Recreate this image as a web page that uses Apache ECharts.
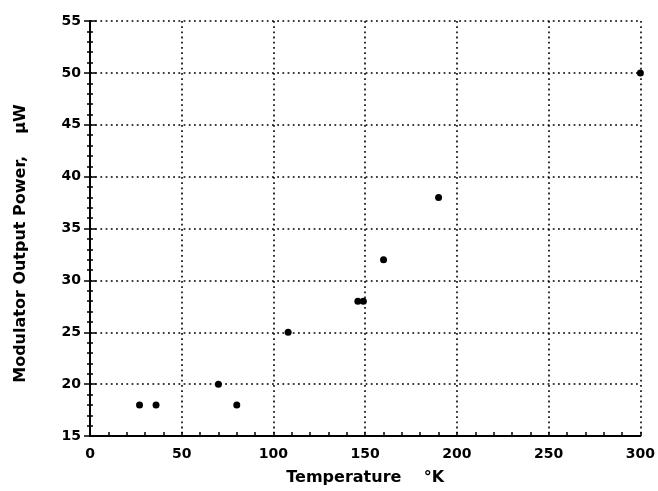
<!DOCTYPE html>
<html>
<head>
<meta charset="utf-8">
<script src="https://cdn.jsdelivr.net/npm/echarts@6/dist/echarts.min.js"></script>
<style>html,body{margin:0;padding:0;background:#fff}#c{width:658px;height:491px}</style>
</head>
<body>
<div id="c"></div>
<script>
var temperatures = [27, 36, 70, 80, 108, 146, 149, 160, 190, 300];
var powers = [18, 18, 20, 18, 25, 28, 28, 32, 38, 50];
var xTicks = [0, 50, 100, 150, 200, 250, 300];
var yTicks = [15, 20, 25, 30, 35, 40, 45, 50, 55];

var points = temperatures.map(function (t, i) { return [t, powers[i]]; });
var font = '"DejaVu Sans", "Liberation Sans", sans-serif';
var labelStyle = { color: '#000', fontFamily: font, fontWeight: 'bold', fontSize: 14 };
var gridLine = { show: true, lineStyle: { color: '#000', type: [1.8, 3.4], width: 1.6 } };

var chart = echarts.init(document.getElementById('c'));
chart.setOption({
  animation: false,
  backgroundColor: '#fff',
  grid: { left: 90, right: 17, top: 21, bottom: 54, containLabel: false },
  xAxis: {
    type: 'value', min: xTicks[0], max: xTicks[xTicks.length - 1], interval: 50,
    name: 'Temperature    \u00B0K', nameLocation: 'middle', nameGap: 34,
    nameTextStyle: { color: '#000', fontFamily: font, fontWeight: 'bold', fontSize: 16 },
    axisLine: { show: true, lineStyle: { color: '#000', width: 2 } },
    axisTick: { show: true, inside: true, length: 4, lineStyle: { color: '#000', width: 1.5 } },
    minorTick: { show: true, splitNumber: 5, length: 4, lineStyle: { color: '#000', width: 1.5 } },
    axisLabel: Object.assign({ margin: 11 }, labelStyle),
    splitLine: gridLine
  },
  yAxis: [{
    type: 'value', min: yTicks[0], max: yTicks[yTicks.length - 1], interval: 5,
    name: 'Modulator Output Power,    \u03BCW', nameLocation: 'middle', nameGap: 61,
    nameTextStyle: { color: '#000', fontFamily: font, fontWeight: 'bold', fontSize: 16, padding: [0, 30, 0, 0] },
    axisLine: { show: true, lineStyle: { color: '#000', width: 2 } },
    axisTick: { show: true, inside: false, length: 6, lineStyle: { color: '#000', width: 1.5 } },
    minorTick: { show: true, splitNumber: 5, length: 3, lineStyle: { color: '#000', width: 1.5 } },
    axisLabel: Object.assign({ margin: 9 }, labelStyle),
    splitLine: gridLine
  }, {
    type: 'value', position: 'left', min: yTicks[0], max: yTicks[yTicks.length - 1], interval: 5,
    axisLine: { show: false },
    axisTick: { show: true, inside: true, length: 6, lineStyle: { color: '#000', width: 1.5 } },
    minorTick: { show: true, splitNumber: 5, length: 3, lineStyle: { color: '#000', width: 1.5 } },
    axisLabel: { show: false },
    splitLine: { show: false }
  }],
  series: [{
    type: 'scatter', data: points, yAxisIndex: 0,
    symbol: 'circle', symbolSize: 7,
    itemStyle: { color: '#000', opacity: 1 }
  }]
});
</script>
</body>
</html>
